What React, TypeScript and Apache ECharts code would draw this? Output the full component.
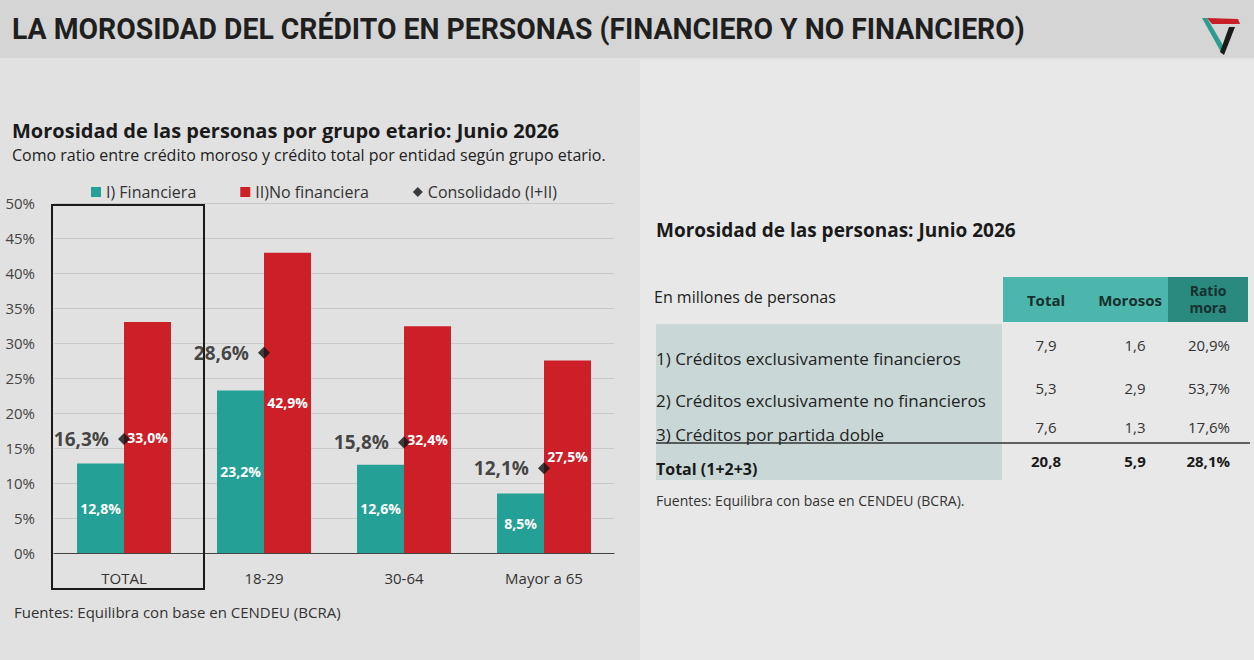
import React, { useEffect, useRef } from "react";
import * as echarts from "echarts";

const categories = ["TOTAL", "18-29", "30-64", "Mayor a 65"];
const financiera = [12.8, 23.2, 12.6, 8.5];
const noFinanciera = [33.0, 42.9, 32.4, 27.5];
const consolidado = [16.3, 28.6, 15.8, 12.1];
const yTicks = { min: 0, max: 50, interval: 5 };

const tableLabels = [
  "1) Créditos exclusivamente financieros",
  "2) Créditos exclusivamente no financieros",
  "3) Créditos por partida doble",
];
const tableTotal = [7.9, 5.3, 7.6];
const tableMorosos = [1.6, 2.9, 1.3];
const tableRatio = [20.9, 53.7, 17.6];
const totalRow = { label: "Total (1+2+3)", total: 20.8, morosos: 5.9, ratio: 28.1 };

const TEAL = "#25a096";
const RED = "#cc1f27";
const FONT = "'Open Sans', 'Noto Sans', sans-serif";
const fmt = (v: number, d = 1) => v.toFixed(d).replace(".", ",");

export default function App() {
  const ref = useRef<HTMLDivElement>(null);
  useEffect(() => {
    if (!ref.current) return;
    const chart = echarts.init(ref.current, null, { renderer: "svg" });

    const rowLabelY = [358, 400, 434];
    const rowValY = [345, 388, 427];
    const tableTexts: any[] = [];
    tableLabels.forEach((t, i) => {
      tableTexts.push({ type: "text", x: 656, y: rowLabelY[i], style: { text: t, font: `17px ${FONT}`, fill: "#222", verticalAlign: "middle" } });
      tableTexts.push({ type: "text", x: 1046, y: rowValY[i], style: { text: fmt(tableTotal[i]), font: `15px ${FONT}`, fill: "#333", align: "center", verticalAlign: "middle" } });
      tableTexts.push({ type: "text", x: 1135, y: rowValY[i], style: { text: fmt(tableMorosos[i]), font: `15px ${FONT}`, fill: "#333", align: "center", verticalAlign: "middle" } });
      tableTexts.push({ type: "text", x: 1230, y: rowValY[i], style: { text: fmt(tableRatio[i]) + "%", font: `15px ${FONT}`, fill: "#333", align: "right", verticalAlign: "middle" } });
    });
    tableTexts.push({ type: "text", x: 656, y: 469, style: { text: totalRow.label, font: `bold 16px ${FONT}`, fill: "#1a1a1a", verticalAlign: "middle" } });
    tableTexts.push({ type: "text", x: 1046, y: 461, style: { text: fmt(totalRow.total), font: `bold 15px ${FONT}`, fill: "#1a1a1a", align: "center", verticalAlign: "middle" } });
    tableTexts.push({ type: "text", x: 1135, y: 461, style: { text: fmt(totalRow.morosos), font: `bold 15px ${FONT}`, fill: "#1a1a1a", align: "center", verticalAlign: "middle" } });
    tableTexts.push({ type: "text", x: 1230, y: 461, style: { text: fmt(totalRow.ratio) + "%", font: `bold 15px ${FONT}`, fill: "#1a1a1a", align: "right", verticalAlign: "middle" } });

    const barLabel = { show: true, position: "inside", formatter: (p: any) => fmt(p.value) + "%", color: "#fff", fontWeight: "bold", fontSize: 14, fontFamily: FONT };

    chart.setOption({
      animation: false,
      backgroundColor: "#e3e3e3",
      graphic: [
        { type: "rect", z: -10, shape: { x: 0, y: 0, width: 1254, height: 58 }, style: { fill: "#d5d5d5" } },
        { type: "rect", z: -10, shape: { x: 0, y: 60, width: 640, height: 600 }, style: { fill: "#e1e1e1" } },
        { type: "rect", z: -10, shape: { x: 640, y: 60, width: 614, height: 600 }, style: { fill: "#e8e8e8" } },
        { type: "text", x: 12, y: 29, scaleX: 0.945, style: { text: "LA MOROSIDAD DEL CRÉDITO EN PERSONAS (FINANCIERO Y NO FINANCIERO)", font: `bold 30px Roboto, sans-serif`, fill: "#1f1f1f", verticalAlign: "middle" } },
        // logo
        { type: "polygon", shape: { points: [[1207, 18], [1238, 19], [1240, 24], [1212, 24]] }, style: { fill: "#c81e28" } },
        { type: "polygon", shape: { points: [[1202, 18], [1207, 18], [1224, 47], [1221, 52]] }, style: { fill: "#2a9d8f" } },
        { type: "polygon", shape: { points: [[1229, 27], [1235, 27], [1224, 55], [1220, 52]] }, style: { fill: "#1a1a1a" } },
        { type: "text", x: 12, y: 130, style: { text: "Morosidad de las personas por grupo etario: Junio 2026", font: `bold 20px ${FONT}`, fill: "#1a1a1a", verticalAlign: "middle" } },
        { type: "text", x: 12, y: 155, style: { text: "Como ratio entre crédito moroso y crédito total por entidad según grupo etario.", font: `16px ${FONT}`, fill: "#222", verticalAlign: "middle" } },
        { type: "rect", shape: { x: 52, y: 205, width: 152, height: 384 }, style: { fill: "none", stroke: "#1a1a1a", lineWidth: 2 }, z: 100 },
        { type: "text", x: 14, y: 612, style: { text: "Fuentes: Equilibra con base en CENDEU (BCRA)", font: `15px ${FONT}`, fill: "#333", verticalAlign: "middle" } },
        // right panel
        { type: "text", x: 656, y: 230, style: { text: "Morosidad de las personas: Junio 2026", font: `bold 19px ${FONT}`, fill: "#1a1a1a", verticalAlign: "middle" } },
        { type: "text", x: 654, y: 297, style: { text: "En millones de personas", font: `16px ${FONT}`, fill: "#222", verticalAlign: "middle" } },
        { type: "rect", shape: { x: 1003, y: 277, width: 165, height: 45 }, style: { fill: "#4db6ac" } },
        { type: "rect", shape: { x: 1168, y: 277, width: 80, height: 45 }, style: { fill: "#2a8a80" } },
        { type: "text", x: 1046, y: 300, style: { text: "Total", font: `bold 15px ${FONT}`, fill: "#17302e", align: "center", verticalAlign: "middle" } },
        { type: "text", x: 1130, y: 300, style: { text: "Morosos", font: `bold 15px ${FONT}`, fill: "#17302e", align: "center", verticalAlign: "middle" } },
        { type: "text", x: 1208, y: 299, style: { text: "Ratio\nmora", font: `bold 14px ${FONT}`, lineHeight: 17, fill: "#17302e", align: "center", verticalAlign: "middle" } },
        { type: "rect", shape: { x: 656, y: 324, width: 346, height: 156 }, style: { fill: "#c9d8d7" } },
        { type: "line", shape: { x1: 656, y1: 443, x2: 1250, y2: 443 }, style: { stroke: "#333", lineWidth: 1.5 } },
        ...tableTexts,
        { type: "text", x: 656, y: 500, style: { text: "Fuentes: Equilibra con base en CENDEU (BCRA).", font: `14px ${FONT}`, fill: "#333", verticalAlign: "middle" } },
      ],
      legend: {
        left: 86,
        top: 179,
        itemWidth: 10,
        itemHeight: 10,
        itemGap: 44,
        textStyle: { fontFamily: FONT, fontSize: 16, color: "#333" },
        data: [
          { name: "I) Financiera", icon: "rect" },
          { name: "II)No financiera", icon: "rect" },
          { name: "Consolidado (I+II)", icon: "diamond" },
        ],
      },
      grid: { left: 54, right: 640, top: 203, bottom: 107 },
      xAxis: {
        type: "category",
        data: categories,
        axisLine: { lineStyle: { color: "#444", width: 1 } },
        axisTick: { show: false },
        axisLabel: { fontFamily: FONT, fontSize: 15, color: "#333", margin: 17 },
      },
      yAxis: {
        type: "value",
        ...yTicks,
        axisLabel: { fontFamily: FONT, fontSize: 15, color: "#444", margin: 19, formatter: (v: number) => `${v}%` },
        splitLine: { lineStyle: { color: "#c9c9c9" } },
        axisLine: { show: false },
        axisTick: { show: false },
      },
      series: [
        {
          name: "I) Financiera",
          type: "bar",
          data: financiera,
          barWidth: 47,
          barGap: "0%",
          itemStyle: { color: TEAL },
          label: barLabel,
        },
        {
          name: "II)No financiera",
          type: "bar",
          data: noFinanciera,
          barWidth: 47,
          barGap: "0%",
          itemStyle: { color: RED },
          label: barLabel,
        },
        {
          name: "Consolidado (I+II)",
          type: "scatter",
          data: consolidado,
          symbol: "diamond",
          symbolSize: 12,
          itemStyle: { color: "#111" },
          z: 5,
          label: { show: true, position: "left", distance: 9, formatter: (p: any) => fmt(p.value) + "%", color: "#1a1a1a", fontWeight: "bold", fontSize: 19, fontFamily: FONT },
        },
      ],
    });
    return () => chart.dispose();
  }, []);
  return <div ref={ref} style={{ position: "fixed", left: 0, top: 0, width: 1254, height: 660 }} />;
}
